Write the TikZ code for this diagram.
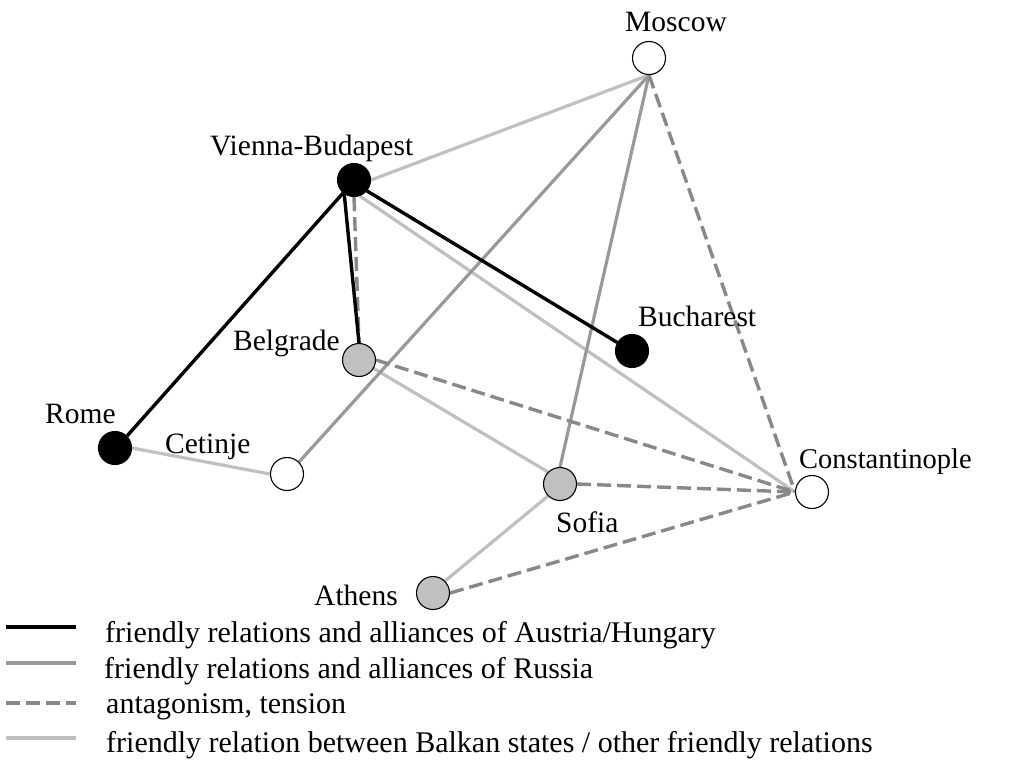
\documentclass[tikz,border=0pt]{standalone}
\usepackage{fontspec}
\setmainfont{Liberation Serif}
\usetikzlibrary{backgrounds}
\definecolor{russia}{HTML}{999999}
\definecolor{tens}{HTML}{888888}
\definecolor{balkan}{HTML}{C0C0C0}
\definecolor{nodegray}{HTML}{C0C0C0}
\tikzset{
  city/.style={circle,draw=black,line width=1.1pt,minimum size=33pt,inner sep=0pt},
  blackcity/.style={city,fill=black},
  graycity/.style={city,fill=nodegray},
  whitecity/.style={city,fill=white},
  lbl/.style={inner sep=0pt,font=\fontsize{29.5}{35}\selectfont},
  smalllbl/.style={inner sep=0pt,font=\fontsize{28.5}{34}\selectfont},
  legtext/.style={inner sep=0pt,font=\fontsize{30}{36}\selectfont},
  austria/.style={line width=3.4pt,black},
  rus/.style={line width=3.2pt,russia},
  antag/.style={line width=3.4pt,tens,dash pattern=on 14pt off 6pt},
  friend/.style={line width=3.2pt,balkan},
}
\begin{document}
\begin{tikzpicture}[x=1pt,y=-1pt]
\useasboundingbox (0,0) rectangle (1009,776);
% cities
\node[whitecity] (mos) at (649,58) {};
\node[blackcity] (vie) at (354,180) {};
\node[graycity] (bel) at (359,360) {};
\node[blackcity] (buc) at (632,351) {};
\node[blackcity] (rom) at (115,448) {};
\node[whitecity] (cet) at (287,474) {};
\node[graycity] (sof) at (560,484) {};
\node[whitecity] (con) at (812,492) {};
\node[graycity] (ath) at (433,593) {};
% labels
\node[lbl,anchor=base west] (tmos) at (625,32) {Moscow};
\node[lbl,anchor=base west] (tvie) at (210,155) {Vienna-Budapest};
\node[lbl,anchor=base west] (tbel) at (233,350) {Belgrade};
\node[lbl,anchor=base west] (tbuc) at (638,326) {Bucharest};
\node[lbl,anchor=base west] (trom) at (45,423) {Rome};
\node[lbl,anchor=base west] (tcet) at (165,453) {Cetinje};
\node[smalllbl,anchor=base west] (tcon) at (799,468) {Constantinople};
\node[lbl,anchor=base west] (tsof) at (556,532) {Sofia};
\node[lbl,anchor=base east] (tath) at (398,605) {Athens};
% legend
\coordinate (l1a) at (6,627); \coordinate (l1b) at (76,627);
\coordinate (l2a) at (6,663); \coordinate (l2b) at (76,663);
\coordinate (l3a) at (6,703); \coordinate (l3b) at (76,703);
\coordinate (l4a) at (6,738); \coordinate (l4b) at (76,738);
\draw[austria] (l1a) -- (l1b);
\draw[rus] (l2a) -- (l2b);
\draw[antag] (l3a) -- (l3b);
\draw[friend] (l4a) -- (l4b);
\node[legtext,anchor=base west] (g1) at (105,642) {friendly relations and alliances of Austria/Hungary};
\node[legtext,anchor=base west] (g2) at (104,678) {friendly relations and alliances of Russia};
\node[legtext,anchor=base west] (g3) at (106,713) {antagonism, tension};
\node[legtext,anchor=base west] (g4) at (106,752) {friendly relation between Balkan states / other friendly relations};
% connectors behind the cities
\begin{scope}[on background layer]
\fill[white] (0,0) rectangle (1009,776);
\draw[friend] (vie.east) -- (mos.south);
\draw[friend] (vie.-70) -- (con.west);
\draw[friend] (rom.east) -- (cet.west);
\draw[friend] (bel.-30) -- (sof.135);
\draw[friend] (sof.-135) -- (ath.45);
\draw[rus] (mos.south) -- (cet.45);
\draw[rus] (mos.south) -- (sof.north);
\draw[antag] (mos.south) -- (con.west);
\draw[antag] (bel.east) -- (con.west);
\draw[antag] (sof.east) -- (con.west);
\draw[antag] (ath.east) -- (con.west);
\draw[antag] (vie.south) -- (bel.north);
\draw[austria] (vie.-130) -- (rom.45);
\draw[austria] (vie.-125) -- (bel.north);
\draw[austria] (vie.-40) -- (buc.150);
\end{scope}
\end{tikzpicture}
\end{document}
